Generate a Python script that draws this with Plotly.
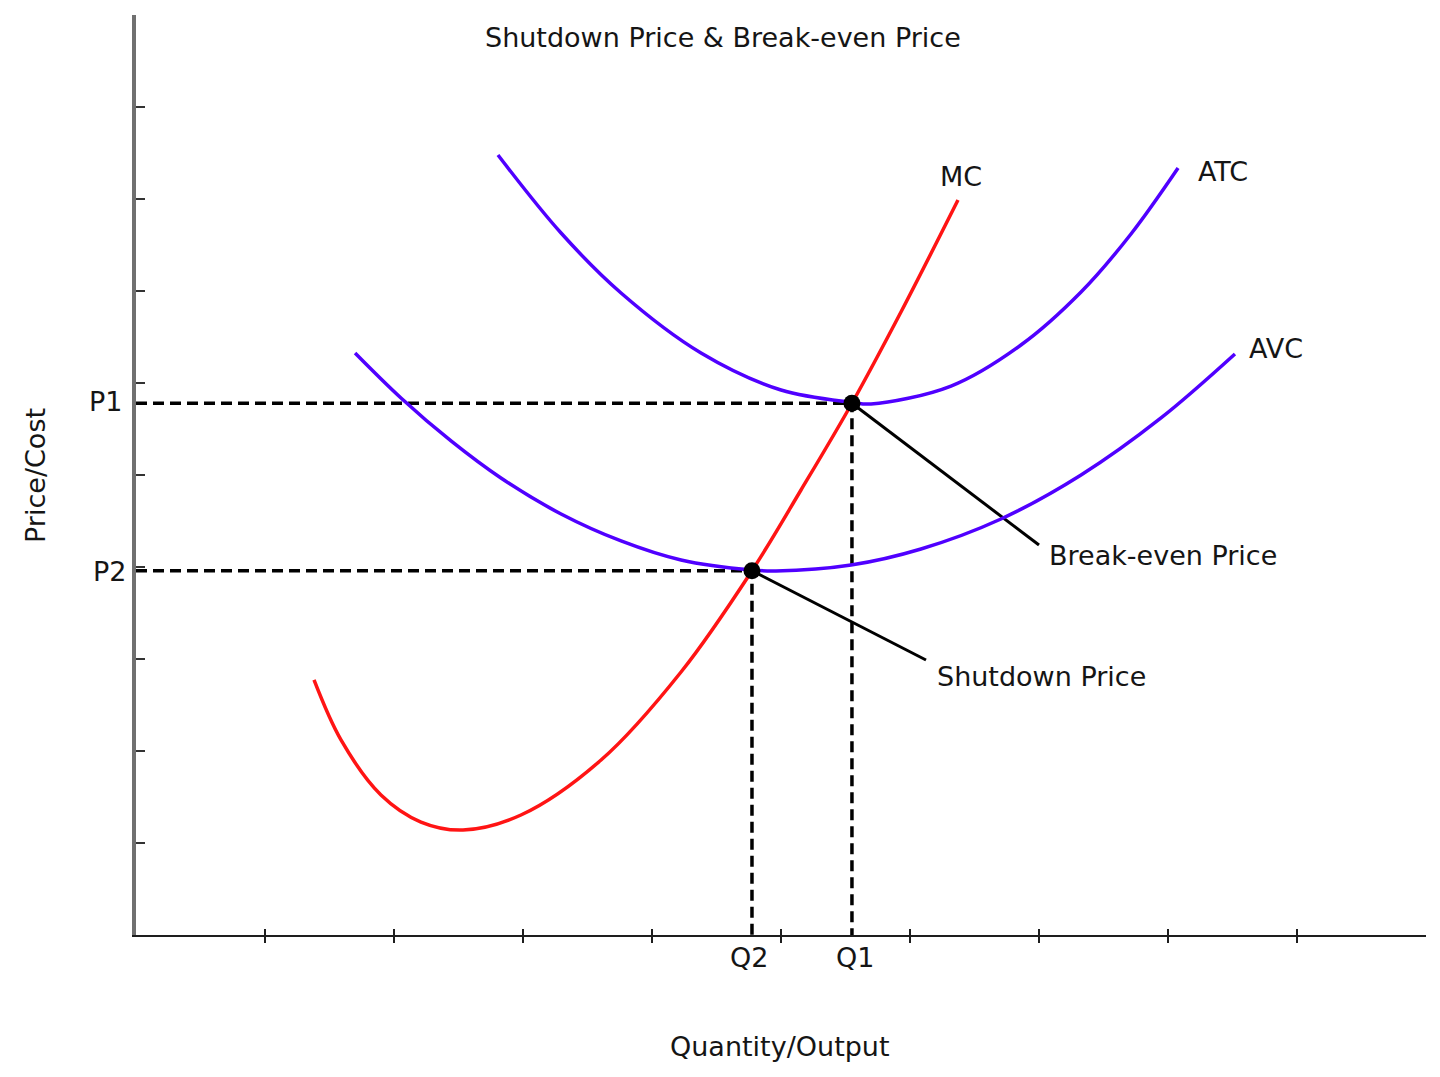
import plotly.graph_objects as go

# ---- data ----
mc_x = [1.380, 1.589, 1.899, 2.209, 2.535, 2.984, 3.605, 4.225, 4.775, 5.155, 5.550, 5.930, 6.372]
mc_y = [2.772, 2.120, 1.522, 1.228, 1.141, 1.304, 1.902, 2.859, 3.960, 4.837, 5.780, 6.772, 7.989]

atc_x = [2.806, 3.295, 3.760, 4.380, 5.000, 5.550, 5.698, 6.318, 6.860, 7.326, 7.713, 8.078]
atc_y = [8.478, 7.630, 6.978, 6.326, 5.924, 5.790, 5.772, 5.967, 6.413, 6.989, 7.620, 8.337]

avc_x = [1.698, 2.054, 2.442, 2.829, 3.295, 3.760, 4.225, 4.775, 4.961, 5.543, 6.085, 6.705, 7.326, 7.946, 8.519]
avc_y = [6.326, 5.837, 5.370, 4.967, 4.576, 4.283, 4.076, 3.967, 3.957, 4.022, 4.196, 4.522, 5.000, 5.620, 6.315]

Q1, P1 = 5.55, 5.78
Q2, P2 = 4.775, 3.96

breakeven_end = (7.00, 4.239)
shutdown_end = (6.124, 2.989)

tick_vals = [1, 2, 3, 4, 5, 6, 7, 8, 9]

FONT = "DejaVu Sans"
FS = 27
TXT = "#151515"
BLUE = "#5000ff"
RED = "#ff1414"

fig = go.Figure()

# dashed guide lines
for q, p in [(Q1, P1), (Q2, P2)]:
    fig.add_trace(go.Scatter(x=[0, q, q], y=[p, p, 0], mode="lines",
                             line=dict(color="black", width=3.5, dash="11px,6px"),
                             hoverinfo="skip", showlegend=False))

# pointer lines
fig.add_trace(go.Scatter(x=[Q1, breakeven_end[0]], y=[P1, breakeven_end[1]], mode="lines",
                         line=dict(color="black", width=3), showlegend=False))
fig.add_trace(go.Scatter(x=[Q2, shutdown_end[0]], y=[P2, shutdown_end[1]], mode="lines",
                         line=dict(color="black", width=3), showlegend=False))

# curves
fig.add_trace(go.Scatter(x=atc_x, y=atc_y, mode="lines", name="ATC",
                         line=dict(color=BLUE, width=3.5, shape="spline", smoothing=1.0), showlegend=False))
fig.add_trace(go.Scatter(x=avc_x, y=avc_y, mode="lines", name="AVC",
                         line=dict(color=BLUE, width=3.5, shape="spline", smoothing=1.0), showlegend=False))
fig.add_trace(go.Scatter(x=mc_x, y=mc_y, mode="lines", name="MC",
                         line=dict(color=RED, width=3.5, shape="spline", smoothing=1.0), showlegend=False))

# points
fig.add_trace(go.Scatter(x=[Q1, Q2], y=[P1, P2], mode="markers",
                         marker=dict(color="black", size=17), showlegend=False))

# invisible trace on overlay axis for inner x ticks
fig.add_trace(go.Scatter(x=[0], y=[0], xaxis="x2", mode="markers",
                         marker=dict(opacity=0), hoverinfo="skip", showlegend=False))

ann = []
def add(text, x, y, xref="x", yref="y", xanchor="center", yanchor="middle", angle=0):
    ann.append(dict(text=text, x=x, y=y, xref=xref, yref=yref, xanchor=xanchor,
                    yanchor=yanchor, showarrow=False, textangle=angle,
                    font=dict(family=FONT, size=FS, color=TXT)))

add("Shutdown Price &amp; Break-even Price", 4.55, 9.76)
add("MC", 6.395, 8.25)
add("ATC", 8.426, 8.304)
add("AVC", 8.837, 6.37)
add("Break-even Price", 7.062, 4.12, xanchor="left")
add("Shutdown Price", 6.194, 2.815, xanchor="left")
add("P1", -0.009, P1 + 0.02, xref="paper", xanchor="right")
add("P2", -0.006, P2 - 0.01, xref="paper", xanchor="right")
add("Q2", Q2 - 0.02, -0.025, yref="paper")
add("Q1", Q1 + 0.02, -0.024, yref="paper")
add("Quantity/Output", 4.992, -0.1207, yref="paper")
add("Price/Cost", -0.0775, 4.99, xref="paper", angle=-90)

fig.update_layout(
    width=1424, height=1061,
    margin=dict(l=128, r=6, t=7, b=134),
    paper_bgcolor="white", plot_bgcolor="white",
    annotations=ann,
    xaxis=dict(range=[0, 10], showgrid=False, zeroline=False, showline=True,
               linecolor="#1e1e1e", linewidth=2, tickmode="array", tickvals=tick_vals,
               showticklabels=False, ticks="outside", ticklen=6, tickwidth=2, tickcolor="#1e1e1e"),
    xaxis2=dict(range=[0, 10], overlaying="x", anchor="y", side="bottom", showgrid=False,
                zeroline=False, showline=False, tickmode="array", tickvals=tick_vals,
                showticklabels=False, ticks="inside", ticklen=6, tickwidth=2, tickcolor="#1e1e1e"),
    yaxis=dict(range=[0, 10], showgrid=False, zeroline=False, showline=True,
               linecolor="#707070", linewidth=3.5, tickmode="array", tickvals=tick_vals,
               showticklabels=False, ticks="inside", ticklen=9, tickwidth=2, tickcolor="#333333"),
)

fig.write_html("out.html")
